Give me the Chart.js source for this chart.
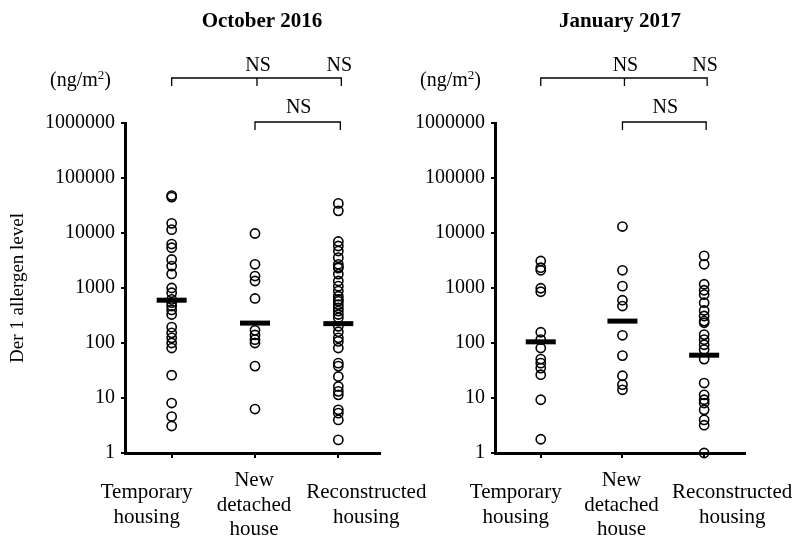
<!DOCTYPE html>
<html>
<head>
<meta charset="utf-8">
<script src="https://cdn.jsdelivr.net/npm/chart.js@4.4.0/dist/chart.umd.min.js"></script>
<style>
body { margin: 0; background: #fff; }
#wrap { position: relative; width: 797px; height: 536px; overflow: hidden; }
.panel { position: absolute; top: 0; height: 536px; }
</style>
</head>
<body>
<div id="wrap">
  <div class="panel" style="left:0;width:440px"><canvas id="chartOct" width="440" height="536"></canvas></div>
  <div class="panel" style="left:400px;width:397px"><canvas id="chartJan" width="397" height="536"></canvas></div>
</div>

<script>
// categories / ticks
var groups = [['Temporary', 'housing'], ['New', 'detached', 'house'], ['Reconstructed', 'housing']];
var yTicks = [1, 10, 100, 1000, 10000, 100000, 1000000];

// October 2016 (ng/m2)
var octTemporary = [48000, 45000, 15000, 11500, 6300, 5400, 3300, 2500, 1800, 1000, 820, 620, 540, 470, 400, 330, 194, 153, 124, 100, 81, 26, 8.1, 4.6, 3.1];
var octNewHouse = [9800, 2700, 1650, 1340, 645, 170, 140, 115, 100, 38, 6.3];
var octReconstructed = [34500, 25300, 7000, 5800, 4700, 3560, 2700, 2400, 2300, 1790, 1340, 1080, 880, 710, 620, 575, 500, 435, 380, 330, 288, 201, 160, 124, 107, 81, 43, 38, 24.6, 16.2, 13.2, 11.4, 6.1, 5.3, 4.0, 1.73];
var octMedians = [600, 230, 225];

// January 2017 (ng/m2)
var janTemporary = [3100, 2340, 2100, 990, 855, 157, 115, 81, 51, 43, 35, 26.5, 9.3, 1.78];
var janNewHouse = [13100, 2100, 1080, 600, 470, 138, 59, 25.4, 17.5, 14.1];
var janReconstructed = [3830, 2700, 1170, 910, 760, 540, 390, 310, 250, 233, 142, 115, 93, 76, 51, 18.7, 11.4, 9.3, 8.1, 6.1, 4.0, 3.2, 1.0];
var janMedians = [105, 250, 60];

var FONT = 'Liberation Serif, "Times New Roman", serif';
// category labels sit a little outward of their ticks in the original
var labelShift = [-25, -1, 28];

function toPoints(vals, gi) {
  var out = [];
  for (var i = 0; i < vals.length; i++) out.push({ x: gi + 1, y: vals[i] });
  return out;
}

function drawUnit(ctx, x, y) {
  ctx.save();
  ctx.fillStyle = '#000';
  ctx.textBaseline = 'middle';
  ctx.textAlign = 'left';
  ctx.font = '20px ' + FONT;
  var a = '(ng/m';
  ctx.fillText(a, x, y);
  var w = ctx.measureText(a).width;
  ctx.font = '13px ' + FONT;
  ctx.fillText('2', x + w, y - 5);
  var w2 = ctx.measureText('2').width;
  ctx.font = '20px ' + FONT;
  ctx.fillText(')', x + w + w2, y);
  ctx.restore();
}

function makePanel(id, title, titleX, series, medians, yWidth, rightPad, showYTitle) {
  var datasets = [{
    data: toPoints([medians[0]], 0).concat(toPoints([medians[1]], 1), toPoints([medians[2]], 2)),
    pointStyle: 'line',
    pointRadius: 15,
    pointHoverRadius: 15,
    borderColor: '#000',
    borderWidth: 5,
    showLine: false,
    clip: false
  }];
  for (var gi = 0; gi < series.length; gi++) {
    datasets.push({
      data: toPoints(series[gi], gi),
      pointStyle: 'circle',
      pointRadius: 4.6,
      pointHoverRadius: 4.6,
      borderColor: '#000',
      borderWidth: 1.6,
      backgroundColor: 'rgba(0,0,0,0)',
      showLine: false,
      clip: false
    });
  }

  var decor = {
    id: 'decor_' + id,
    afterDraw: function(chart) {
      var ctx = chart.ctx;
      var xs = chart.scales.x;
      var p1 = xs.getPixelForValue(1), p2 = xs.getPixelForValue(2), p3 = xs.getPixelForValue(3);
      ctx.save();
      // title
      ctx.fillStyle = '#000';
      ctx.font = 'bold 21px ' + FONT;
      ctx.textAlign = 'center';
      ctx.textBaseline = 'middle';
      ctx.fillText(title, titleX, 22);

      // brackets
      ctx.strokeStyle = '#000';
      ctx.lineWidth = 1.3;
      ctx.beginPath();
      ctx.moveTo(p1, 86); ctx.lineTo(p1, 78); ctx.lineTo(p3 + 3, 78); ctx.lineTo(p3 + 3, 86);
      ctx.moveTo(p2 + 2, 78); ctx.lineTo(p2 + 2, 86);
      ctx.moveTo(p2, 130); ctx.lineTo(p2, 122); ctx.lineTo(p3 + 2, 122); ctx.lineTo(p3 + 2, 130);
      ctx.stroke();

      ctx.font = '20px ' + FONT;
      ctx.fillText('NS', p2 + 3, 66);
      ctx.fillText('NS', p3 + 1, 66);
      ctx.fillText('NS', (p2 + p3) / 2 + 2, 108);

      // category labels, vertically centred on one line
      ctx.font = '21px ' + FONT;
      var xticks = xs.ticks;
      for (var i = 0; i < xticks.length; i++) {
        var lines = groups[xticks[i].value - 1];
        var cx = xs.getPixelForValue(xticks[i].value) + labelShift[i];
        var y0 = 505 - (lines.length - 1) * 24.5 / 2;
        for (var j = 0; j < lines.length; j++) ctx.fillText(lines[j], cx, y0 + j * 24.5);
      }

      drawUnit(ctx, chart.chartArea.left - 75, 81);

      if (showYTitle) {
        ctx.translate(18, (chart.chartArea.top + chart.chartArea.bottom) / 2);
        ctx.rotate(-Math.PI / 2);
        ctx.font = '19px ' + FONT;
        ctx.fillText('Der 1 allergen level', 0, 0);
      }
      ctx.restore();
    }
  };

  return new Chart(document.getElementById(id), {
    type: 'scatter',
    data: { datasets: datasets },
    options: {
      responsive: false,
      animation: false,
      events: [],
      layout: { padding: { left: 0, top: 123, right: rightPad, bottom: 0 } },
      plugins: { legend: { display: false }, tooltip: { enabled: false } },
      scales: {
        x: {
          type: 'linear',
          min: 0.44,
          max: 3.5,
          afterBuildTicks: function(s) { s.ticks = [{ value: 1 }, { value: 2 }, { value: 3 }]; },
          afterFit: function(s) { s.height = 83; s.paddingLeft = 0; s.paddingRight = 0; },
          ticks: {
            autoSkip: false,
            maxRotation: 0,
            color: '#000',
            font: { family: FONT, size: 21 },
            callback: function() { return ''; }
          },
          grid: { drawOnChartArea: false, drawTicks: true, tickLength: 5, color: '#000', lineWidth: 2 },
          border: { color: '#000', width: 3 }
        },
        y: {
          type: 'logarithmic',
          min: 1,
          max: 1000000,
          afterBuildTicks: function(s) { s.ticks = yTicks.map(function(v) { return { value: v }; }); },
          afterFit: function(s) { s.width = yWidth; s.paddingTop = 0; s.paddingBottom = 0; },
          ticks: {
            padding: 6,
            color: '#000',
            font: { family: FONT, size: 20 },
            callback: function(v) { return String(v); }
          },
          grid: { drawOnChartArea: false, drawTicks: true, tickLength: 4, color: '#000', lineWidth: 2 },
          border: { color: '#000', width: 3 }
        }
      }
    },
    plugins: [decor]
  });
}

makePanel('chartOct', 'October 2016', 262, [octTemporary, octNewHouse, octReconstructed], octMedians, 125, 60, true);
makePanel('chartJan', 'January 2017', 220, [janTemporary, janNewHouse, janReconstructed], janMedians, 95, 52, false);
</script>
</body>
</html>
